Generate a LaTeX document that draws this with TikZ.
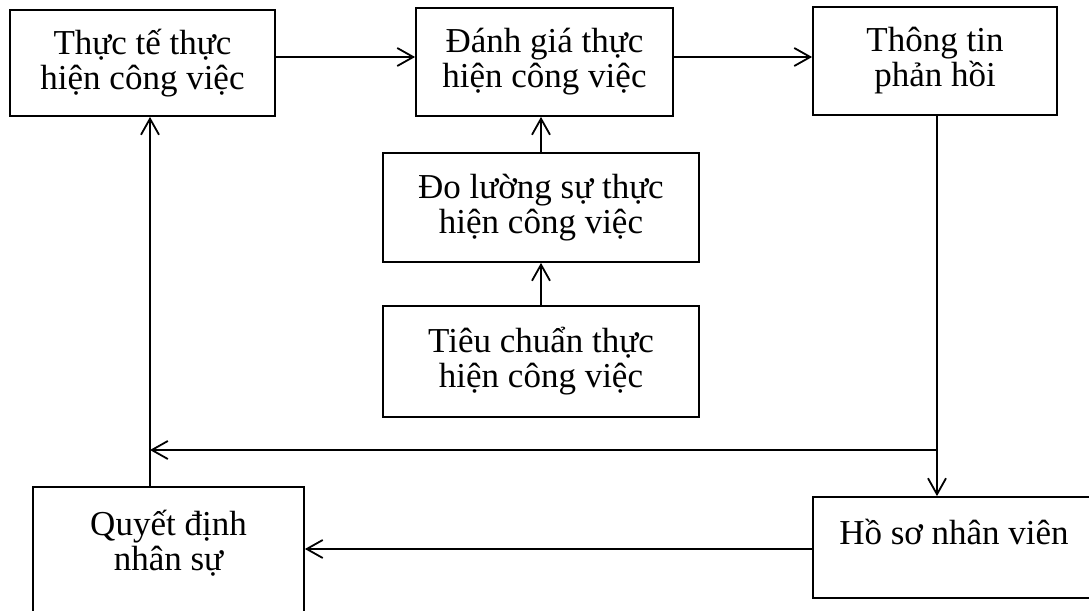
\documentclass[tikz,border=0pt]{standalone}
\usepackage{fontspec}
\setmainfont{Liberation Serif}
\usetikzlibrary{arrows.meta,positioning}
\tikzset{
  box/.style={draw,line width=0.9pt,align=center,font=\fontsize{17.5}{17.5}\selectfont,inner sep=0pt},
  txt/.style={align=center,font=\fontsize{17.5}{17.5}\selectfont,inner sep=0pt},
  arr/.style={-{Straight Barb[length=8pt,width=9pt]},line width=0.9pt}
}

\begin{document}
\begin{tikzpicture}[x=0.5pt,y=-0.5pt]
\useasboundingbox (0,0) rectangle (1089,611);
\clip (0,0) rectangle (1089,611);
% top row
\node[box,minimum width=132.5pt,minimum height=53pt] (thucte) at (142.5,63) {Thực tế thực\\hiện công việc};
\node[box,minimum width=128.5pt,minimum height=54pt] (danhgia) at (544.5,62) {Đánh giá thực\\hiện công việc};
\node[box,minimum width=122pt,minimum height=54pt] (thongtin) at (935,61) {Thông tin\\phản hồi};
% middle column
\node[box,minimum width=158pt,minimum height=54.5pt] (dolg) at (541,207.5) {Đo lường sự thực\\hiện công việc};
\node[box,minimum width=158pt,minimum height=55.5pt] (tieuchuan) at (541,361.5) {Tiêu chuẩn thực\\hiện công việc};
% bottom row
\node[box,minimum width=135.5pt,minimum height=86.5pt] (qd) at (168.5,573.5) {};
\node[txt] (qdtext) at (168.5,543) {Quyết định\\nhân sự};
\node[box,minimum width=148.5pt,minimum height=50.5pt] (hoso) at (961.5,547.5) {};
\node[txt] (hosotext) at (954,532) {Hồ sơ nhân viên};
% connectors
\coordinate (jt) at (560,57);
\coordinate (jr) at (937,450);
\coordinate (jl) at (150,450);
\coordinate (jb) at (560,549);
\draw[arr] (thucte.east |- jt) -- (danhgia.west |- jt);
\draw[arr] (danhgia.east |- jt) -- (thongtin.west |- jt);
\draw[arr] (dolg.north) -- (dolg.north |- danhgia.south);
\draw[arr] (tieuchuan.north) -- (dolg.south);
\draw[arr] (thongtin.south -| jr) -- (hoso.north -| jr);
\draw[arr] (jr) -- (jl);
\draw[arr] (qd.north -| jl) -- (thucte.south -| jl);
\draw[arr] (hoso.west |- jb) -- (qd.east |- jb);
\end{tikzpicture}
\end{document}
